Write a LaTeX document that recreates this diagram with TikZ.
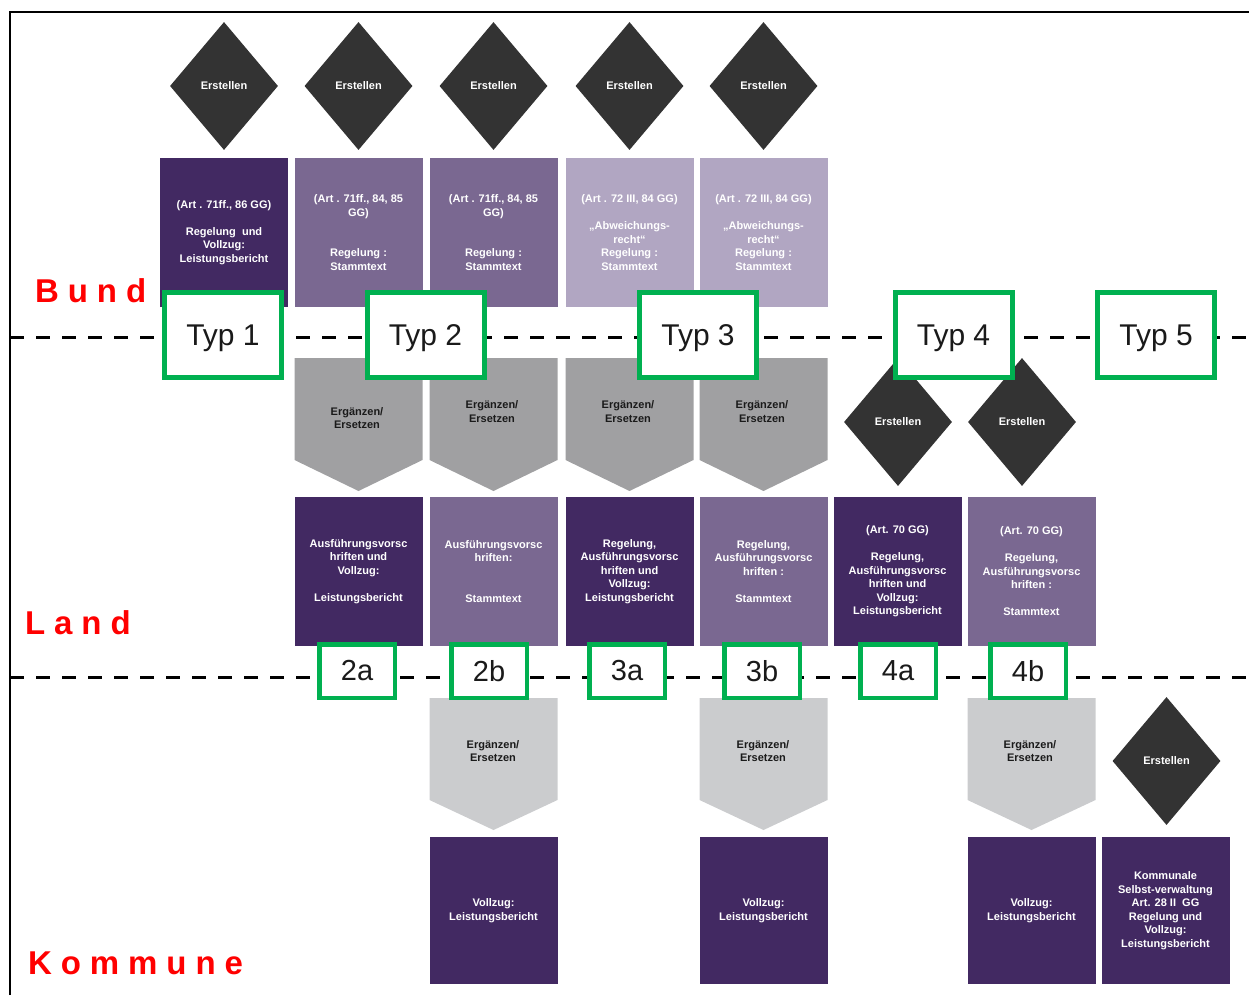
\documentclass[tikz,border=0pt]{standalone}
\usepackage{fontspec}
\setmainfont{Liberation Sans}
\usetikzlibrary{shapes.geometric}
\definecolor{dkp}{HTML}{422962}
\definecolor{mdp}{HTML}{7A6891}
\definecolor{ltp}{HTML}{B1A6C2}
\definecolor{gch}{HTML}{A0A0A2}
\definecolor{lch}{HTML}{CBCCCE}
\definecolor{dia}{HTML}{333333}
\definecolor{grn}{HTML}{00B050}
\definecolor{txk}{HTML}{1A1A1A}
\begin{document}
\begin{tikzpicture}[x=1pt,y=-1pt,
 box/.style={minimum width=128pt, minimum height=149pt, inner sep=0pt, text=white, font=\fontsize{11}{13.5}\selectfont\bfseries, align=center},
 dk/.style={box, fill=dkp}, md/.style={box, fill=mdp}, lt/.style={box, fill=ltp},
 erst/.style={diamond, fill=dia, minimum width=108pt, minimum height=128pt, inner sep=0pt, text=white, font=\fontsize{11}{13}\selectfont\bfseries},
 typ/.style={draw=grn, line width=5pt, fill=white, minimum width=117pt, minimum height=85pt, inner sep=0pt, text depth=0pt, font=\fontsize{30}{30}\selectfont, text=txk},
 sub/.style={draw=grn, line width=4.5pt, fill=white, minimum width=75.5pt, minimum height=53.5pt, inner sep=0pt, font=\fontsize{29}{29}\selectfont, text=txk},
 lvl/.style={anchor=west, inner sep=0pt, text=red, font=\fontsize{33}{33}\selectfont\bfseries\addfontfeatures{LetterSpace=27}},
 chtxt/.style={inner sep=0pt, text=txk, font=\fontsize{11}{13.5}\selectfont\bfseries, align=center},
 sepline/.style={line width=3pt, dash pattern=on 14pt off 12pt}
]
\useasboundingbox (0,0) rectangle (1249,995);
% frame
\coordinate (f0) at (10,995);
\coordinate (f1) at (10,12);
\coordinate (f2) at (1249,12);
\draw[line width=2.5pt] (f0) -- (f1) -- (f2);
% separators
\coordinate (s1a) at (10,337); \coordinate (s1b) at (1249,337);
\coordinate (s2a) at (10,677); \coordinate (s2b) at (1249,677);
\draw[sepline] (s1a) -- (s1b);
\draw[sepline] (s2a) -- (s2b);

% Bund: diamonds
\node[erst] (e1) at (224,86) {Erstellen};
\node[erst] (e2) at (358.5,86) {Erstellen};
\node[erst] (e3) at (493.5,86) {Erstellen};
\node[erst] (e4) at (629.5,86) {Erstellen};
\node[erst] (e5) at (763.5,86) {Erstellen};
% Bund: boxes
\node[dk] (b1) at (224,232.5) {(Art . 71ff., 86 GG)\\[13.5pt]Regelung\ \ und\\Vollzug:\\Leistungsbericht};
\node[md] (b2) at (358.5,232.5) {(Art . 71ff., 84, 85\\GG)\\[27pt]Regelung :\\Stammtext};
\node[md] (b3) at (493.5,232.5) {(Art . 71ff., 84, 85\\GG)\\[27pt]Regelung :\\Stammtext};
\node[lt] (b4) at (629.5,232.5) {(Art . 72 III, 84 GG)\\[13.5pt]„Abweichungs-\\recht“\\Regelung :\\Stammtext};
\node[lt] (b5) at (763.5,232.5) {(Art . 72 III, 84 GG)\\[13.5pt]„Abweichungs-\\recht“\\Regelung :\\Stammtext};

% Land: chevrons
\foreach \cx in {358.5,493.5,629.5,763.5}
  \fill[gch] (\cx-64,358) -- (\cx+64,358) -- (\cx+64,460) -- (\cx,491) -- (\cx-64,460) -- cycle;
\node[chtxt] (g2) at (357,418) {Ergänzen/\\Ersetzen};
\node[chtxt] (g3) at (492,411.5) {Ergänzen/\\Ersetzen};
\node[chtxt] (g4) at (628,411.5) {Ergänzen/\\Ersetzen};
\node[chtxt] (g5) at (762,411.5) {Ergänzen/\\Ersetzen};
% Land: diamonds
\node[erst] (e6) at (898,422) {Erstellen};
\node[erst] (e7) at (1022,422) {Erstellen};
% Land: boxes
\node[dk] (l2) at (358.5,571.5) {Ausführungsvorsc\\hriften und\\Vollzug:\\[13.5pt]Leistungsbericht};
\node[md] (l3) at (493.5,571.5) {Ausführungsvorsc\\hriften:\\[27pt]Stammtext};
\node[dk] (l4) at (629.5,571.5) {Regelung,\\Ausführungsvorsc\\hriften und\\Vollzug:\\Leistungsbericht};
\node[md] (l5) at (763.5,571.5) {Regelung,\\Ausführungsvorsc\\hriften :\\[13.5pt]Stammtext};
\node[dk] (l6) at (897.5,571.5) {(Art. 70 GG)\\[13.5pt]Regelung,\\Ausführungsvorsc\\hriften und\\Vollzug:\\Leistungsbericht};
\node[md] (l7) at (1031.5,571.5) {(Art. 70 GG)\\[13.5pt]Regelung,\\Ausführungsvorsc\\hriften :\\[13.5pt]Stammtext};

% Kommune: chevrons
\foreach \cx in {493.5,763.5,1031.5}
  \fill[lch] (\cx-64,698) -- (\cx+64,698) -- (\cx+64,800) -- (\cx,830) -- (\cx-64,800) -- cycle;
\node[chtxt] (k3) at (493,751) {Ergänzen/\\Ersetzen};
\node[chtxt] (k5) at (763,751) {Ergänzen/\\Ersetzen};
\node[chtxt] (k7) at (1030,751) {Ergänzen/\\Ersetzen};
\node[erst] (e8) at (1166.5,761) {Erstellen};
% Kommune: boxes
\node[dk, minimum height=147pt] (m3) at (493.5,910.5) {Vollzug:\\Leistungsbericht};
\node[dk, minimum height=147pt] (m5) at (763.5,910.5) {Vollzug:\\Leistungsbericht};
\node[dk, minimum height=147pt] (m7) at (1031.5,910.5) {Vollzug:\\Leistungsbericht};
\node[dk, minimum height=147pt] (m8) at (1165.5,910.5) {Kommunale\\Selbst-verwaltung\\Art. 28 II\ \ GG\\Regelung und\\Vollzug:\\Leistungsbericht};

% Typ labels
\node[typ] (t1) at (223,335) {Typ 1};
\node[typ] (t2) at (425.5,335) {Typ 2};
\node[typ] (t3) at (698,335) {Typ 3};
\node[typ] (t4) at (953.5,335) {Typ 4};
\node[typ] (t5) at (1156,335) {Typ 5};
% sub labels
\node[sub] (u2a) at (357,671) {2a};
\node[sub] (u2b) at (489,671) {2b};
\node[sub] (u3a) at (627,671) {3a};
\node[sub] (u3b) at (762,671) {3b};
\node[sub] (u4a) at (898,671) {4a};
\node[sub] (u4b) at (1028,671) {4b};

% level labels
\node[lvl] (bund) at (35,291) {Bund};
\node[lvl] (land) at (25,623) {Land};
\node[lvl] (komm) at (28,963) {Kommune};
\end{tikzpicture}
\end{document}
